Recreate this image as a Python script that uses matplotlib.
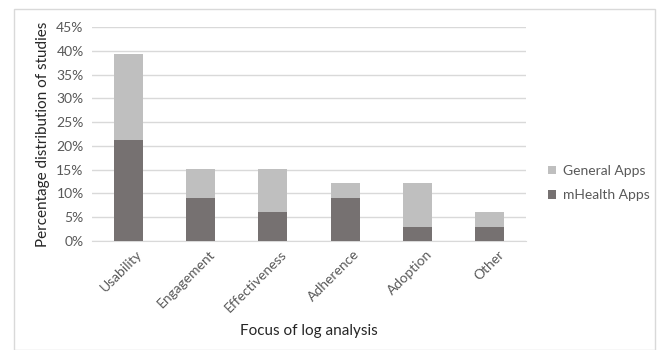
import matplotlib
matplotlib.use("Agg")
import matplotlib.pyplot as plt
from matplotlib.patches import Rectangle
from matplotlib.ticker import FuncFormatter, MultipleLocator
from matplotlib.transforms import ScaledTranslation

plt.rcParams['font.family'] = ['Lato', 'DejaVu Sans']

categories = ["Usability", "Engagement", "Effectiveness", "Adherence", "Adoption", "Other"]
mhealth_pct = [21.2, 9.1, 6.1, 9.1, 3.0, 3.0]
general_pct = [18.2, 6.1, 9.1, 3.0, 9.1, 3.0]

dark = "#767171"
light = "#BFBFBF"
text_col = "#595959"
grid_col = "#D9D9D9"

fig = plt.figure(figsize=(6.58, 3.5), dpi=100)
fig.patches.append(Rectangle((14 / 658, 0), 641 / 658, 1 - 9 / 350, transform=fig.transFigure,
                             fill=False, edgecolor="#D9D9D9", linewidth=1))

ax = fig.add_axes([92 / 658, 1 - 241 / 350, 434 / 658, 214 / 350])
x = range(len(categories))
ax.bar(x, mhealth_pct, width=0.4, color=dark, label="mHealth Apps", zorder=3)
ax.bar(x, general_pct, width=0.4, bottom=mhealth_pct, color=light, label="General Apps", zorder=3)

ax.set_xlim(-0.5, len(categories) - 0.5)
ax.set_ylim(0, 45)
ax.yaxis.set_major_locator(MultipleLocator(5))
ax.yaxis.set_major_formatter(FuncFormatter(lambda v, p: f"{v:.0f}%"))
ax.grid(axis="y", color=grid_col, linewidth=1, zorder=0)
for s in ["top", "right", "left"]:
    ax.spines[s].set_visible(False)
ax.spines["bottom"].set_color(grid_col)
ax.tick_params(axis="both", length=0, colors=text_col, labelsize=10)
ax.tick_params(axis="y", pad=6)
ax.tick_params(axis="x", pad=5)
ax.set_xticks(list(x))
ax.set_xticklabels(categories, rotation=45, ha="right", rotation_mode="anchor")
shift = ScaledTranslation(8 / 100, 0, fig.dpi_scale_trans)
for lbl in ax.get_xticklabels():
    lbl.set_transform(lbl.get_transform() + shift)
ax.set_ylabel("Percentage distribution of studies", color="#262626", fontsize=11)
ax.set_xlabel("Focus of log analysis", color="#262626", fontsize=11)
ax.yaxis.set_label_coords(-0.113, 0.5)
ax.xaxis.set_label_coords(0.5, -0.42)
ax.xaxis.label.set_va("center")
ax.yaxis.label.set_va("center")

handles, labels = ax.get_legend_handles_labels()
ax.legend(handles[::-1], labels[::-1], loc="center left", bbox_to_anchor=(1.05, 0.27),
          borderaxespad=0, borderpad=0, frameon=False, fontsize=10, labelcolor=text_col,
          handlelength=0.6, handleheight=0.6, handletextpad=0.5, labelspacing=0.9)

fig.savefig("out.png", dpi=100, facecolor="white")
